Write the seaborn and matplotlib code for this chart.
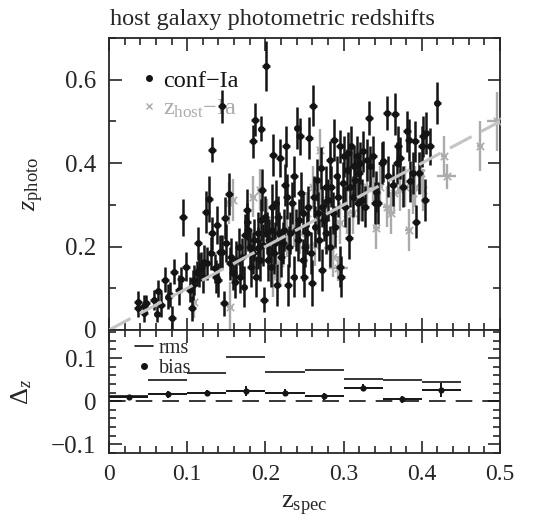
import numpy as np
import pandas as pd
import matplotlib
matplotlib.use("Agg")
import matplotlib.pyplot as plt
import seaborn as sns
from matplotlib.lines import Line2D
from matplotlib.ticker import MultipleLocator, FuncFormatter

# ---------------- data ----------------
# confirmed SNe Ia: spectroscopic z, photometric z, photo-z error
zspec_conf = [0.0375, 0.0375, 0.0447, 0.0447, 0.047, 0.057, 0.062, 0.063, 0.067, 0.072,
              0.076, 0.078, 0.081, 0.083, 0.090, 0.092, 0.095, 0.098, 0.103, 0.106,
              0.107, 0.109, 0.112, 0.114, 0.115, 0.118, 0.120, 0.121, 0.124, 0.125,
              0.128, 0.130, 0.132, 0.132, 0.135, 0.137, 0.138, 0.140, 0.142, 0.144,
              0.145, 0.147, 0.148, 0.150, 0.153, 0.155, 0.156, 0.159, 0.161, 0.163,
              0.166, 0.168, 0.170, 0.172, 0.174, 0.176, 0.177, 0.178, 0.180, 0.182,
              0.184, 0.184, 0.185, 0.187, 0.188, 0.190, 0.191, 0.193, 0.194, 0.195,
              0.196, 0.197, 0.198, 0.199, 0.201, 0.202, 0.203, 0.205, 0.207, 0.208,
              0.209, 0.210, 0.211, 0.212, 0.213, 0.215, 0.216, 0.218, 0.219, 0.220,
              0.222, 0.224, 0.225, 0.226, 0.228, 0.229, 0.230, 0.232, 0.234, 0.236,
              0.237, 0.239, 0.241, 0.242, 0.243, 0.244, 0.246, 0.248, 0.248, 0.249,
              0.251, 0.253, 0.254, 0.256, 0.258, 0.260, 0.261, 0.262, 0.264, 0.266,
              0.267, 0.269, 0.271, 0.272, 0.273, 0.275, 0.277, 0.278, 0.280, 0.282,
              0.283, 0.284, 0.286, 0.288, 0.289, 0.291, 0.293, 0.295, 0.295, 0.297,
              0.299, 0.301, 0.302, 0.304, 0.306, 0.307, 0.308, 0.310, 0.312, 0.313,
              0.315, 0.317, 0.318, 0.320, 0.321, 0.323, 0.325, 0.327, 0.330, 0.332,
              0.334, 0.338, 0.340, 0.342, 0.344, 0.349, 0.351, 0.355, 0.357, 0.363,
              0.366, 0.368, 0.370, 0.372, 0.376, 0.381, 0.383, 0.385, 0.389, 0.391,
              0.393, 0.396, 0.400, 0.402, 0.404, 0.406, 0.410, 0.420]
zphot_conf = [0.068, 0.052, 0.040, 0.058, 0.064, 0.072, 0.038, 0.094, 0.060, 0.120,
              0.080, 0.084, 0.028, 0.140, 0.096, 0.122, 0.270, 0.152, 0.096, 0.052,
              0.108, 0.120, 0.136, 0.208, 0.144, 0.152, 0.128, 0.164, 0.283, 0.160,
              0.314, 0.184, 0.432, 0.232, 0.148, 0.128, 0.252, 0.120, 0.188, 0.188,
              0.536, 0.064, 0.268, 0.208, 0.326, 0.160, 0.176, 0.136, 0.116, 0.168,
              0.200, 0.128, 0.176, 0.104, 0.228, 0.288, 0.260, 0.240, 0.200, 0.152,
              0.184, 0.452, 0.216, 0.504, 0.128, 0.232, 0.196, 0.168, 0.264, 0.482,
              0.336, 0.204, 0.072, 0.272, 0.632, 0.232, 0.168, 0.216, 0.152, 0.296,
              0.240, 0.420, 0.184, 0.208, 0.304, 0.108, 0.272, 0.232, 0.412, 0.176,
              0.208, 0.240, 0.348, 0.440, 0.320, 0.108, 0.200, 0.232, 0.304, 0.128,
              0.368, 0.240, 0.484, 0.216, 0.264, 0.464, 0.328, 0.168, 0.280, 0.128,
              0.200, 0.232, 0.296, 0.460, 0.184, 0.112, 0.538, 0.320, 0.248, 0.360,
              0.280, 0.216, 0.388, 0.144, 0.296, 0.264, 0.344, 0.232, 0.312, 0.408,
              0.200, 0.344, 0.280, 0.456, 0.248, 0.368, 0.320, 0.152, 0.440, 0.128,
              0.352, 0.416, 0.296, 0.384, 0.424, 0.220, 0.344, 0.440, 0.320, 0.392,
              0.360, 0.416, 0.304, 0.376, 0.400, 0.312, 0.428, 0.296, 0.408, 0.508,
              0.392, 0.416, 0.304, 0.332, 0.304, 0.400, 0.404, 0.520, 0.368, 0.348,
              0.518, 0.400, 0.440, 0.412, 0.344, 0.476, 0.456, 0.356, 0.376, 0.452,
              0.260, 0.376, 0.440, 0.464, 0.312, 0.472, 0.440, 0.544]
zerr_conf = [0.025, 0.02, 0.02, 0.025, 0.02, 0.025, 0.02, 0.025, 0.03, 0.03,
             0.03, 0.03, 0.03, 0.03, 0.035, 0.03, 0.045, 0.035, 0.03, 0.03,
             0.035, 0.035, 0.03, 0.04, 0.04, 0.035, 0.04, 0.04, 0.05, 0.04,
             0.055, 0.04, 0.03, 0.04, 0.035, 0.04, 0.045, 0.04, 0.04, 0.04,
             0.04, 0.03, 0.05, 0.045, 0.05, 0.04, 0.045, 0.04, 0.04, 0.045,
             0.045, 0.04, 0.045, 0.05, 0.05, 0.05, 0.045, 0.05, 0.045, 0.05,
             0.05, 0.04, 0.05, 0.04, 0.05, 0.05, 0.05, 0.05, 0.05, 0.03,
             0.05, 0.05, 0.03, 0.05, 0.06, 0.05, 0.05, 0.05, 0.05, 0.055,
             0.05, 0.05, 0.05, 0.05, 0.055, 0.05, 0.05, 0.05, 0.045, 0.05,
             0.05, 0.05, 0.05, 0.05, 0.055, 0.05, 0.05, 0.05, 0.05, 0.05,
             0.05, 0.05, 0.05, 0.05, 0.05, 0.045, 0.05, 0.05, 0.05, 0.05,
             0.05, 0.05, 0.05, 0.05, 0.05, 0.055, 0.05, 0.05, 0.05, 0.05,
             0.05, 0.05, 0.05, 0.05, 0.05, 0.05, 0.05, 0.05, 0.05, 0.045,
             0.05, 0.05, 0.05, 0.05, 0.05, 0.05, 0.05, 0.05, 0.04, 0.05,
             0.05, 0.05, 0.05, 0.05, 0.05, 0.05, 0.05, 0.05, 0.05, 0.05,
             0.05, 0.05, 0.05, 0.05, 0.05, 0.05, 0.05, 0.05, 0.05, 0.04,
             0.05, 0.05, 0.05, 0.05, 0.05, 0.05, 0.05, 0.04, 0.05, 0.05,
             0.05, 0.05, 0.05, 0.05, 0.05, 0.05, 0.05, 0.05, 0.05, 0.05,
             0.04, 0.05, 0.05, 0.05, 0.05, 0.05, 0.045, 0.05]
zspec_err_conf = 0.005

# host-z SNe Ia
zspec_host = [0.109, 0.154, 0.155, 0.159, 0.184, 0.193, 0.202, 0.210, 0.219, 0.227,
              0.236, 0.244, 0.253, 0.261, 0.270, 0.278, 0.287, 0.295, 0.304, 0.312,
              0.321, 0.330, 0.338, 0.347, 0.355, 0.364, 0.372, 0.379, 0.383, 0.389,
              0.399, 0.402, 0.428, 0.432, 0.474, 0.496, 0.270, 0.263, 0.283, 0.293,
              0.308, 0.342, 0.361, 0.391, 0.287]
zphot_host = [0.068, 0.304, 0.056, 0.312, 0.320, 0.336, 0.264, 0.128, 0.160, 0.224,
              0.248, 0.232, 0.280, 0.344, 0.312, 0.272, 0.232, 0.256, 0.280, 0.280,
              0.312, 0.344, 0.360, 0.344, 0.296, 0.328, 0.336, 0.344, 0.240, 0.328,
              0.376, 0.336, 0.416, 0.368, 0.440, 0.500, 0.432, 0.204, 0.196, 0.148,
              0.392, 0.244, 0.280, 0.344, 0.176]
zerr_host = [0.04, 0.05, 0.06, 0.05, 0.05, 0.05, 0.05, 0.05, 0.05, 0.05,
             0.05, 0.05, 0.05, 0.05, 0.05, 0.05, 0.05, 0.05, 0.05, 0.05,
             0.05, 0.05, 0.05, 0.05, 0.05, 0.05, 0.05, 0.05, 0.05, 0.05,
             0.05, 0.05, 0.05, 0.03, 0.06, 0.07, 0.05, 0.05, 0.05, 0.03,
             0.05, 0.05, 0.05, 0.05, 0.05]
zspec_err_host = [0.004, 0.004, 0.004, 0.004, 0.004, 0.004, 0.004, 0.004, 0.004, 0.004,
                  0.004, 0.008, 0.004, 0.004, 0.004, 0.004, 0.004, 0.004, 0.004, 0.004,
                  0.004, 0.004, 0.004, 0.004, 0.004, 0.008, 0.004, 0.004, 0.004, 0.004,
                  0.004, 0.004, 0.004, 0.012, 0.004, 0.012, 0.004, 0.008, 0.008, 0.012,
                  0.004, 0.004, 0.004, 0.004, 0.004]

# residual panel: bins in z_spec
bin_lo = [0.00, 0.05, 0.10, 0.15, 0.20, 0.25, 0.30, 0.35, 0.40]
bin_hi = [0.05, 0.10, 0.15, 0.20, 0.25, 0.30, 0.35, 0.40, 0.45]
rms = [0.011, 0.048, 0.066, 0.102, 0.067, 0.073, 0.052, 0.048, 0.045]
bias = [0.0086, 0.016, 0.0195, 0.023, 0.0195, 0.011, 0.031, 0.005, 0.026]
bias_err = [0.003, 0.008, 0.007, 0.012, 0.008, 0.008, 0.008, 0.008, 0.017]

# ---------------- style ----------------
sns.set_theme(style="ticks")
plt.rcParams["font.family"] = ["Liberation Serif", "DejaVu Serif"]
plt.rcParams["mathtext.fontset"] = "custom"
plt.rcParams["mathtext.rm"] = "Liberation Serif"
plt.rcParams["mathtext.it"] = "Liberation Serif:italic"
plt.rcParams["axes.linewidth"] = 1.3

BLACK = "#141414"
GREY = "#ababab"
MINUS = "\u2212"

fig = plt.figure(figsize=(5.6, 5.2), dpi=100)
ax = fig.add_axes([109 / 560, 1 - 330 / 520, 391 / 560, 292 / 520])
ax2 = fig.add_axes([109 / 560, 1 - 453 / 520, 391 / 560, 123 / 520])

df_conf = pd.DataFrame({"zs": zspec_conf, "zp": zphot_conf, "err": zerr_conf})
df_host = pd.DataFrame({"zs": zspec_host, "zp": zphot_host, "err": zerr_host,
                        "xerr": zspec_err_host})

# host-z points (grey crosses)
ax.errorbar(df_host.zs, df_host.zp, yerr=df_host.err, xerr=df_host.xerr, fmt="none",
            ecolor=GREY, elinewidth=1.7, capsize=0, zorder=2)
sns.scatterplot(data=df_host, x="zs", y="zp", marker="x", s=28, color=GREY,
                linewidth=1.2, ax=ax, zorder=3, legend=False)

# confirmed points (black dots)
ax.errorbar(df_conf.zs, df_conf.zp, yerr=df_conf.err, xerr=zspec_err_conf, fmt="none",
            ecolor=BLACK, elinewidth=1.8, capsize=0, zorder=4)
sns.scatterplot(data=df_conf, x="zs", y="zp", marker="o", s=24, color=BLACK,
                edgecolor=BLACK, linewidth=0, ax=ax, zorder=5, legend=False)

# one-to-one line
diag = [0.0, 0.5]
ax.plot(diag, diag, color="#c4c4c4", lw=2.2, dashes=(8, 3.5), zorder=6)

ax.set_xlim(0, 0.5)
ax.set_ylim(0, 0.7)
ax.set_xlabel("")
ax.set_ylabel(r"$z_{\mathregular{photo}}$", fontsize=19, labelpad=14)


def fmt(v, _):
    if abs(v) < 1e-9:
        return "0"
    return ("%g" % round(v, 3)).replace("-", MINUS)


ax.xaxis.set_major_locator(MultipleLocator(0.1))
ax.xaxis.set_minor_locator(MultipleLocator(0.02))
ax.yaxis.set_major_locator(MultipleLocator(0.2))
ax.yaxis.set_minor_locator(MultipleLocator(0.1))
ax.yaxis.set_major_formatter(FuncFormatter(fmt))
ax.tick_params(which="both", direction="in", top=True, right=True, labelbottom=False,
               labelsize=18, width=1.2, pad=9)
ax.tick_params(which="major", length=9)
ax.tick_params(which="minor", length=5)

leg_handles = [
    Line2D([], [], marker="o", ls="none", color=BLACK, markersize=4),
    Line2D([], [], marker="x", ls="none", color=GREY, markersize=4.5, mew=1),
]
leg = ax.legend(leg_handles, ["conf" + MINUS + "Ia", r"$\mathregular{z_{host}}$" + MINUS + "Ia"],
                loc="upper left", bbox_to_anchor=(0.06, 0.925), frameon=False,
                fontsize=17.5, handlelength=0.6, handletextpad=0.25, labelspacing=0.25,
                borderaxespad=0, labelcolor=[BLACK, GREY])
leg.set_zorder(1)

fig.text(110 / 560, 1 - 19 / 520, "host galaxy photometric redshifts", fontsize=17.5,
         ha="left", va="center")

# ---------------- residual panel ----------------
centers = [(a + b) / 2 for a, b in zip(bin_lo, bin_hi)]
half = [(b - a) / 2 for a, b in zip(bin_lo, bin_hi)]
df_bins = pd.DataFrame({"zc": centers, "half": half, "rms": rms, "bias": bias,
                        "berr": bias_err, "lo": bin_lo, "hi": bin_hi})

ax2.axhline(0, color=BLACK, lw=1.2, dashes=(10, 6), zorder=1)
ax2.hlines(df_bins.rms, df_bins.lo, df_bins.hi, color=BLACK, lw=1.2, zorder=2)
ax2.errorbar(df_bins.zc, df_bins.bias, yerr=df_bins.berr, xerr=df_bins.half, fmt="none",
             ecolor=BLACK, elinewidth=1.4, capsize=0, zorder=3)
sns.scatterplot(data=df_bins, x="zc", y="bias", marker="o", s=20, color=BLACK,
                linewidth=0, ax=ax2, zorder=4, legend=False)

ax2.set_xlim(0, 0.5)
ax2.set_ylim(-0.12, 0.165)
ax2.xaxis.set_major_locator(MultipleLocator(0.1))
ax2.xaxis.set_minor_locator(MultipleLocator(0.02))
ax2.yaxis.set_major_locator(MultipleLocator(0.1))
ax2.yaxis.set_minor_locator(MultipleLocator(0.02))
ax2.xaxis.set_major_formatter(FuncFormatter(fmt))
ax2.yaxis.set_major_formatter(FuncFormatter(fmt))
ax2.tick_params(which="both", direction="in", top=True, right=True, labelsize=18,
                width=1.2)
ax2.tick_params(axis="x", labelsize=17)
ax2.tick_params(axis="y", pad=9)
ax2.tick_params(axis="x", pad=8)
ax2.tick_params(which="major", length=9)
ax2.tick_params(which="minor", length=5)
ax2.set_xlabel(r"$\mathregular{z_{spec}}$", fontsize=19, labelpad=6)
ax2.set_ylabel(r"$\mathregular{\Delta}_z$", fontsize=19, labelpad=12)

leg2_handles = [
    Line2D([], [], ls="-", color=BLACK, lw=1.2),
    Line2D([], [], marker="o", ls="none", color=BLACK, markersize=4),
]
ax2.legend(leg2_handles, ["rms", "bias"], loc="upper left", bbox_to_anchor=(0.045, 0.99),
           frameon=False, fontsize=14.5, handlelength=0.9, handletextpad=0.3,
           labelspacing=0.05, borderaxespad=0)

fig.savefig("out.png", dpi=100)
